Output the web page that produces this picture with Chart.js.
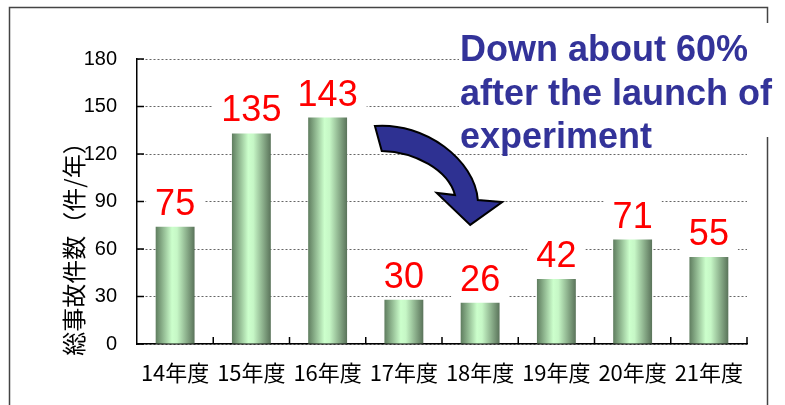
<!DOCTYPE html>
<html lang="ja">
<head>
<meta charset="utf-8">
<title>総事故件数</title>
<script src="https://cdn.jsdelivr.net/npm/chart.js@4.4.1/dist/chart.umd.min.js"></script>
<style>
  html, body { margin: 0; padding: 0; background: #fff; }
  #wrap { width: 785px; height: 405px; }
</style>
</head>
<body>
<div id="wrap"><canvas id="chart" width="785" height="405"></canvas></div>
<script>
// Daten
const categories = ['14年度', '15年度', '16年度', '17年度', '18年度', '19年度', '20年度', '21年度'];
const barValues = [74, 133, 143, 28, 26, 41, 66, 55];     // Balkenhöhen wie gezeichnet
const labelValues = [75, 135, 143, 30, 26, 42, 71, 55];   // Beschriftungen über den Balken
const yTicks = [0, 30, 60, 90, 120, 150, 180];
const yTitle = '総事故件数（件/年）';
const noteLines = ['Down about 60%', 'after the launch of', 'experiment'];

// Pfeil in Achseneinheiten: [Kategorie-Index, Wert]
const arrowTailTop = [2.62, 137.7];
const arrowOuterC1 = [3.28, 140.2];
const arrowOuterC2 = [3.93, 116.2];
const arrowOuterEnd = [3.97, 90.9];
const arrowWingRight = [4.29, 89.7];
const arrowTip = [3.87, 75.2];
const arrowWingLeft = [3.43, 95.4];
const arrowInnerStart = [3.67, 94.1];
const arrowInnerC1 = [3.58, 109.9];
const arrowInnerC2 = [3.15, 121.3];
const arrowTailBottom = [2.71, 121.9];

const SANS = '"Liberation Sans", Arial, sans-serif';
const CJK = '"Noto Sans CJK JP", "Noto Sans", sans-serif';

// Farbverlauf für jeden Balken (horizontal)
function barGradient(context) {
    const chart = context.chart;
    const xScale = chart.scales.x;
    if (!xScale || !chart.chartArea) return '#9c9';
    const cx = xScale.getPixelForValue(context.dataIndex);
    const w = (chart.chartArea.width / categories.length) * 0.51;
    const g = chart.ctx.createLinearGradient(cx - w / 2, 0, cx + w / 2, 0);
    g.addColorStop(0, '#5f7d5f');
    g.addColorStop(0.42, '#ccffcc');
    g.addColorStop(0.55, '#c6f7c6');
    g.addColorStop(1, '#5a735a');
    return g;
}

// Zusatz-Zeichnungen: Rahmen, Ticks, Pfeil, Werte, Achsentitel, Notiz
const decorPlugin = {
    id: 'decor',
    beforeDraw(chart) {
        const ctx = chart.ctx;
        ctx.save();
        ctx.fillStyle = '#fff';
        ctx.fillRect(0, 0, chart.width, chart.height);
        ctx.strokeStyle = '#444';
        ctx.lineWidth = 1.5;
        ctx.strokeRect(9.5, 7.5, 758, 430);
        ctx.restore();
    },
    afterDatasetsDraw(chart) {
        const ctx = chart.ctx;
        const x = chart.scales.x;
        const y = chart.scales.y;
        const area = chart.chartArea;
        const px = p => [x.getPixelForValue(p[0]), y.getPixelForValue(p[1])];

        // kleine Ticks nach innen
        ctx.save();
        ctx.strokeStyle = '#000';
        ctx.lineWidth = 1.5;
        ctx.beginPath();
        yTicks.forEach(v => {
            const yy = y.getPixelForValue(v);
            ctx.moveTo(area.left, yy);
            ctx.lineTo(area.left + 7, yy);
        });
        for (let i = 1; i <= categories.length; i++) {
            const xx = x.getPixelForValue(i - 0.5);
            ctx.moveTo(xx, area.bottom);
            ctx.lineTo(xx, area.bottom - 7);
        }
        ctx.stroke();
        ctx.restore();

        // Pfeil
        ctx.save();
        ctx.beginPath();
        ctx.moveTo(...px(arrowTailTop));
        ctx.bezierCurveTo(...px(arrowOuterC1), ...px(arrowOuterC2), ...px(arrowOuterEnd));
        ctx.lineTo(...px(arrowWingRight));
        ctx.lineTo(...px(arrowTip));
        ctx.lineTo(...px(arrowWingLeft));
        ctx.lineTo(...px(arrowInnerStart));
        ctx.bezierCurveTo(...px(arrowInnerC1), ...px(arrowInnerC2), ...px(arrowTailBottom));
        ctx.closePath();
        ctx.fillStyle = '#2e3192';
        ctx.fill();
        ctx.strokeStyle = '#000';
        ctx.lineWidth = 2;
        ctx.lineJoin = 'miter';
        ctx.stroke();
        ctx.restore();

        // Werte über den Balken mit weißem Hintergrund
        const meta = chart.getDatasetMeta(0);
        ctx.save();
        ctx.font = '36px ' + SANS;
        ctx.textAlign = 'center';
        ctx.textBaseline = 'alphabetic';
        meta.data.forEach((bar, i) => {
            const text = String(labelValues[i]);
            const w = ctx.measureText(text).width;
            const base = bar.y - 12;
            ctx.fillStyle = '#fff';
            ctx.fillRect(bar.x - w / 2 - 9, base - 32, w + 18, 39);
            ctx.fillStyle = '#ff0000';
            ctx.fillText(text, bar.x, base);
        });
        ctx.restore();

        // Achsentitel (gedreht)
        ctx.save();
        ctx.translate(74, 243);
        ctx.rotate(-Math.PI / 2);
        ctx.font = '24px ' + CJK;
        ctx.fillStyle = '#000';
        ctx.textAlign = 'center';
        ctx.textBaseline = 'middle';
        ctx.fillText(yTitle, 0, 0);
        ctx.restore();
    },
    afterDraw(chart) {
        const ctx = chart.ctx;
        ctx.save();
        ctx.fillStyle = '#fff';
        ctx.fillRect(459, 23, 326, 114);
        ctx.font = 'bold 36px ' + SANS;
        ctx.fillStyle = '#333399';
        ctx.textAlign = 'left';
        ctx.textBaseline = 'alphabetic';
        noteLines.forEach((line, i) => ctx.fillText(line, 460, 61 + i * 43.5));
        ctx.restore();
    }
};

const ctx = document.getElementById('chart').getContext('2d');
new Chart(ctx, {
    type: 'bar',
    data: {
        labels: categories,
        datasets: [{
            data: barValues,
            backgroundColor: barGradient,
            borderWidth: 0,
            barPercentage: 0.51,
            categoryPercentage: 1
        }]
    },
    options: {
        responsive: false,
        animation: false,
        devicePixelRatio: 1,
        layout: { padding: { top: 59, right: 38, left: 0, bottom: 0 } },
        plugins: {
            legend: { display: false },
            tooltip: { enabled: false }
        },
        scales: {
            x: {
                grid: { display: false, drawTicks: false },
                border: { color: '#000', width: 1.5 },
                ticks: { color: '#000', font: { family: CJK, size: 22 }, padding: 15, maxRotation: 0 },
                afterFit: s => { s.height = 61; }
            },
            y: {
                min: 0,
                max: 180,
                afterBuildTicks: s => { s.ticks = yTicks.map(v => ({ value: v })); },
                grid: { color: '#666', lineWidth: 1, drawTicks: false },
                border: { color: '#000', width: 1.5, dash: [2, 2] },
                ticks: { color: '#000', font: { family: SANS, size: 20 }, padding: 20 },
                afterFit: s => { s.width = 137; }
            }
        }
    },
    plugins: [decorPlugin]
});
</script>
</body>
</html>
